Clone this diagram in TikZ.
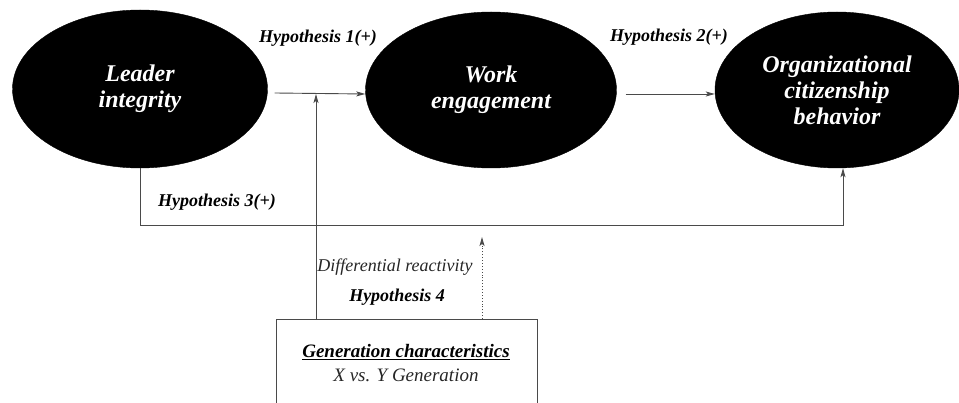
\documentclass[tikz,border=0pt]{standalone}
\usepackage{fontspec}
\setmainfont{LiberationSerif}[Extension=.ttf,UprightFont=*-Regular,BoldFont=*-Bold,ItalicFont=*-Italic,BoldItalicFont=*-BoldItalic]
\usetikzlibrary{shapes.geometric,arrows.meta}
\definecolor{lin}{HTML}{4A4A4A}
\tikzset{
  blob/.style={ellipse,fill=black,draw=black,inner sep=0pt,text=white,align=center,
    font=\fontsize{24}{26}\selectfont\bfseries\itshape},
  hyp/.style={inner sep=0pt,font=\fontsize{18}{20}\selectfont\bfseries\itshape},
  plain/.style={inner sep=0pt,font=\fontsize{18}{20}\selectfont\itshape,text=black!85},
  arr/.style={draw=lin,line width=0.9pt,-{Stealth[length=9pt,width=5pt,inset=2pt]}},
  genbox/.style={draw=lin,line width=1pt,inner sep=0pt}
}
\begin{document}
\begin{tikzpicture}[x={(1pt,0pt)},y={(0pt,-1pt)}]
\useasboundingbox (0,0) rectangle (959,403);
\clip (0,0) rectangle (959,403);
\node[blob,minimum width=255pt,minimum height=158pt] (li) at (140,89) {Leader\\integrity};
\node[blob,minimum width=251pt,minimum height=156pt] (we) at (491,90) {Work\\engagement};
\node[blob,minimum width=244pt,minimum height=156pt] (ocb) at (837,90) {Organizational\\citizenship\\behavior};
\node[genbox,minimum width=261pt,minimum height=120pt,anchor=north] (gen) at (406.5,319) {};
\node[inner sep=0pt,font=\fontsize{19}{21}\selectfont\bfseries\itshape] (gt) at (406,352) {\underline{Generation characteristics}};
\node[plain,font=\fontsize{19}{21}\selectfont\itshape] (gx) at (406,375) {X vs. Y Generation};
\node[hyp] (h1) at (318,38) {Hypothesis 1(+)};
\node[hyp] (h2) at (669,37) {Hypothesis 2(+)};
\node[hyp] (h3) at (217,202) {Hypothesis 3(+)};
\node[plain] (dr) at (395,267) {Differential reactivity};
\node[hyp] (h4) at (397,297) {Hypothesis 4};
\coordinate (m1) at (316,94);
\coordinate (m2) at (482,237);
\coordinate (h3r) at (843,225);
\draw[arr] ([xshift=7pt,yshift=-4pt]li.east) -- ([yshift=-4pt]we.west);
\draw[arr] ([xshift=9pt,yshift=-4pt]we.east) -- ([yshift=-4pt]ocb.west);
\draw[arr] (gen.north -| m1) -- (m1);
\draw[arr,dotted] (gen.north -| m2) -- (m2);
\draw[arr] (li.south) |- (h3r) -- ([xshift=6pt]ocb.south);
\end{tikzpicture}
\end{document}
